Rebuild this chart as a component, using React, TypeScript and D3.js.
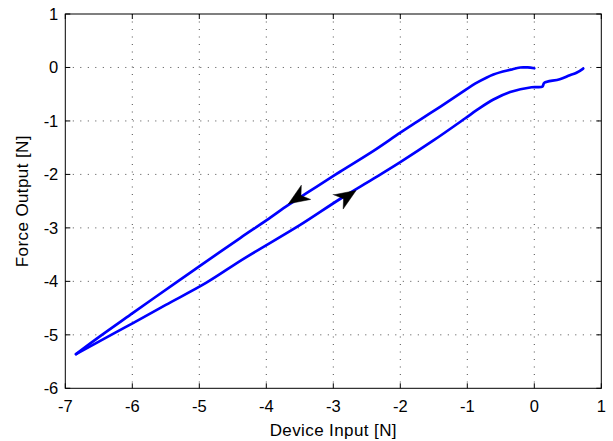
import React, { useEffect } from "react";
import * as d3 from "d3";

const W = 613;
const H = 441;

const xTicks = [-7, -6, -5, -4, -3, -2, -1, 0, 1];
const yTicks = [1, 0, -1, -2, -3, -4, -5, -6];

// Upper branch: unloading path, from x≈0 going left/down
const upperX = [0.0, -0.1, -0.21, -0.35, -0.61, -0.85, -1.11, -1.4, -1.73, -2.0, -2.4, -2.9, -3.05, -3.4, -3.67, -4.0, -4.39, -4.99, -5.3, -5.99, -6.54, -6.84];
const upperY = [-0.015, 0.0, 0.0, -0.04, -0.13, -0.28, -0.49, -0.73, -1.0, -1.22, -1.56, -1.95, -2.07, -2.35, -2.57, -2.86, -3.19, -3.71, -3.98, -4.59, -5.08, -5.36];

// Lower branch: loading path, from the lower-left end going right/up
const lowerX = [-6.84, -6.24, -5.99, -5.5, -4.9, -4.34, -3.5, -2.9, -2.4, -2.0, -1.5, -1.03, -0.85, -0.61, -0.36, -0.04, 0.12, 0.135, 0.15, 0.38, 0.53, 0.63, 0.73];
const lowerY = [-5.36, -4.95, -4.78, -4.44, -4.03, -3.58, -2.95, -2.46, -2.08, -1.77, -1.36, -0.95, -0.79, -0.6, -0.46, -0.37, -0.36, -0.32, -0.285, -0.22, -0.145, -0.1, -0.02];

// Arrow annotations: tip positions in data units and direction of travel in x
const arrowTipX = [-3.67, -2.66];
const arrowTipY = [-2.55, -2.3];
const arrowDir = [-1, 1];

const margin = { left: 65.3, right: 613 - 601.3, top: 14, bottom: 441 - 388.3 };

export default function App() {
  useEffect(() => {
    document.body.style.margin = "0";
  }, []);

  const x = d3.scaleLinear().domain([-7, 1]).range([margin.left, W - margin.right]);
  const y = d3.scaleLinear().domain([-6, 1]).range([H - margin.bottom, margin.top]);

  const line = d3
    .line<[number, number]>()
    .x((d) => x(d[0]))
    .y((d) => y(d[1]))
    .curve(d3.curveCatmullRom.alpha(0.5));

  const upper: [number, number][] = upperX.map((v, i) => [v, upperY[i]]);
  const lower: [number, number][] = lowerX.map((v, i) => [v, lowerY[i]]);

  const x0 = x(-7), x1 = x(1), y0 = y(-6), y1 = y(1);
  const tickLen = 5;
  const font = "'Liberation Sans', Arial, Helvetica, sans-serif";

  const arrows = arrowTipX.map((tx, i) => {
    const px = x(tx), py = y(arrowTipY[i]);
    const slopeData = 0.82;
    const dxp = arrowDir[i] * (x(1) - x(0));
    const dyp = arrowDir[i] * (y(slopeData) - y(0));
    const len = Math.hypot(dxp, dyp);
    const ux = dxp / len, uy = dyp / len;
    const nx = -uy, ny = ux;
    const L = 21, hw = 8.5, notch = 15;
    const bx = px - ux * L, by = py - uy * L;
    const p = [
      [px, py],
      [bx + nx * hw, by + ny * hw],
      [px - ux * notch, py - uy * notch],
      [bx - nx * hw, by - ny * hw],
    ];
    return <path key={i} d={"M" + p.map((q) => q.join(",")).join("L") + "Z"} fill="#000" stroke="#000" strokeWidth={0.5} strokeLinejoin="miter" />;
  });

  return (
    <svg width={W} height={H} style={{ display: "block", background: "#fff" }}>
      <rect x={0} y={0} width={W} height={H} fill="#fff" />
      <g stroke="#000" strokeWidth={1} strokeDasharray="1,6.5" opacity={0.7}>
        {xTicks.slice(1, -1).map((t) => (
          <line key={"gx" + t} x1={x(t)} x2={x(t)} y1={y1} y2={y0} />
        ))}
        {yTicks.slice(1, -1).map((t) => (
          <line key={"gy" + t} x1={x0} x2={x1} y1={y(t)} y2={y(t)} />
        ))}
      </g>
      <path d={line(upper) || ""} fill="none" stroke="#0000ff" strokeWidth={2.7} strokeLinejoin="round" strokeLinecap="round" />
      <path d={line(lower) || ""} fill="none" stroke="#0000ff" strokeWidth={2.7} strokeLinejoin="round" strokeLinecap="round" />
      {arrows}
      <rect x={x0} y={y1} width={x1 - x0} height={y0 - y1} fill="none" stroke="#000" strokeWidth={1} />
      <g stroke="#000" strokeWidth={1}>
        {xTicks.map((t) => (
          <g key={"tx" + t}>
            <line x1={x(t)} x2={x(t)} y1={y0} y2={y0 - tickLen} />
            <line x1={x(t)} x2={x(t)} y1={y1} y2={y1 + tickLen} />
          </g>
        ))}
        {yTicks.map((t) => (
          <g key={"ty" + t}>
            <line x1={x0} x2={x0 + tickLen} y1={y(t)} y2={y(t)} />
            <line x1={x1} x2={x1 - tickLen} y1={y(t)} y2={y(t)} />
          </g>
        ))}
      </g>
      <g fontFamily={font} fontSize={16.5} fill="#000">
        {xTicks.map((t) => (
          <text key={"lx" + t} x={x(t)} y={y0 + 23.5} textAnchor="middle">
            {t}
          </text>
        ))}
        {yTicks.map((t) => (
          <text key={"ly" + t} x={x0 - 7} y={y(t) + 6} textAnchor="end">
            {t}
          </text>
        ))}
      </g>
      <text x={(x0 + x1) / 2} y={436} textAnchor="middle" fontFamily={font} fontSize={17} letterSpacing={0.4} fill="#000">
        Device Input [N]
      </text>
      <text
        transform={`translate(27.5, ${(y0 + y1) / 2}) rotate(-90)`}
        textAnchor="middle"
        fontFamily={font}
        fontSize={17}
        letterSpacing={0.4}
        fill="#000"
      >
        Force Output [N]
      </text>
    </svg>
  );
}
